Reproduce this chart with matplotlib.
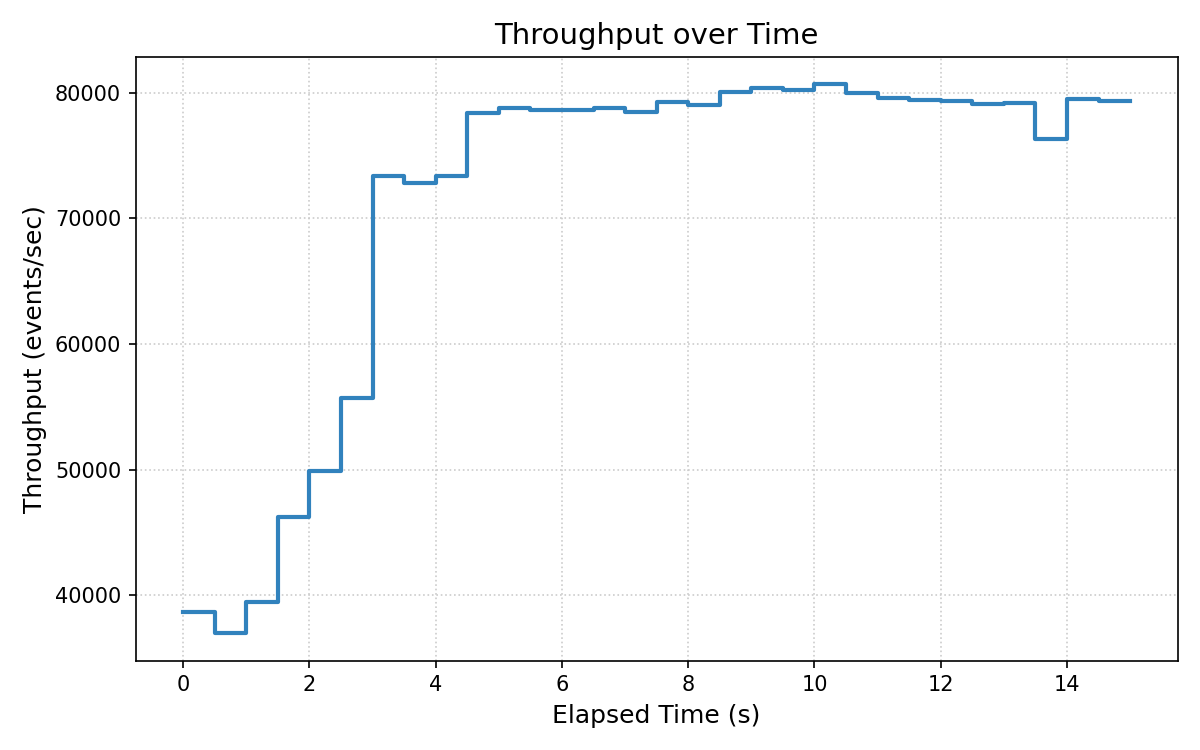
import matplotlib
matplotlib.use("Agg")
import matplotlib.pyplot as plt

# elapsed time (s) at the start of each 0.5 s bucket
elapsed = [0.0, 0.5, 1.0, 1.5, 2.0, 2.5, 3.0, 3.5, 4.0, 4.5, 5.0, 5.5, 6.0, 6.5, 7.0, 7.5,
           8.0, 8.5, 9.0, 9.5, 10.0, 10.5, 11.0, 11.5, 12.0, 12.5, 13.0, 13.5, 14.0, 14.5, 15.0]
# throughput (events/sec)
throughput = [38640, 36990, 39440, 46220, 49870, 55710, 73360, 72820, 73380, 78370,
              78800, 78670, 78670, 78830, 78510, 79310, 79010, 80050, 80350, 80240,
              80670, 79950, 79630, 79470, 79390, 79090, 79200, 76350, 79490, 79390, 79390]

fig, ax = plt.subplots(figsize=(8, 5), dpi=150)
ax.step(elapsed, throughput, where='post', color='#3182bd', linewidth=2)
ax.set_title('Throughput over Time', fontsize=14)
ax.set_xlabel('Elapsed Time (s)', fontsize=12)
ax.set_ylabel('Throughput (events/sec)', fontsize=12)
ax.grid(True, linestyle=':', color='#cccccc', linewidth=0.8)
fig.tight_layout()
fig.savefig('out.png')
